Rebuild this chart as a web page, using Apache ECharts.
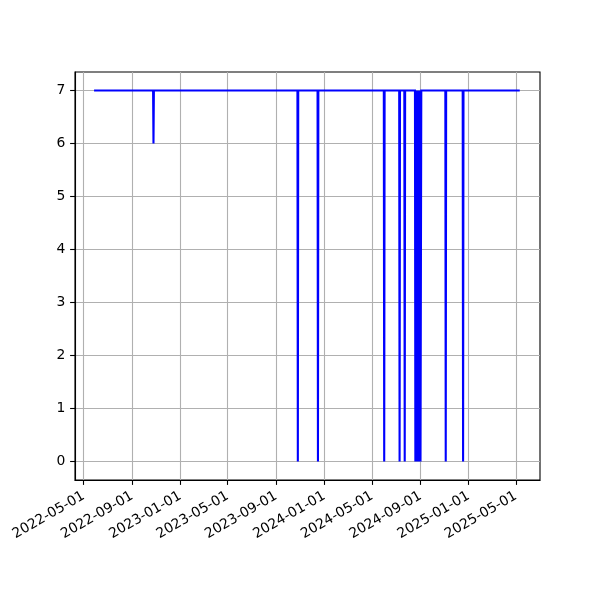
<!DOCTYPE html>
<html>
<head>
<meta charset="utf-8">
<script src="https://cdn.jsdelivr.net/npm/echarts@6/dist/echarts.min.js"></script>
<style>html,body{margin:0;padding:0;background:#fff}#c{width:600px;height:600px}</style>
</head>
<body>
<div id="c"></div>
<script>
// Key points of the series (line joins them)
const dates = [
  '2022-05-30',
  '2022-10-24','2022-10-25','2022-10-26',
  '2023-10-25','2023-10-26','2023-10-27',
  '2023-12-15','2023-12-16','2023-12-17',
  '2024-05-31','2024-06-01','2024-06-02',
  '2024-07-09','2024-07-10','2024-07-11',
  '2024-07-22','2024-07-23','2024-07-24',
  '2024-08-18','2024-08-19','2024-08-20','2024-08-21','2024-08-22','2024-08-23',
  '2024-08-24','2024-08-25','2024-08-26','2024-08-27','2024-08-28','2024-08-29',
  '2024-08-30','2024-08-31','2024-09-01','2024-09-02','2024-09-03',
  '2024-11-03','2024-11-04','2024-11-05',
  '2024-12-17','2024-12-18','2024-12-19',
  '2025-05-08'
];
const values = [
  7,
  7,6,7,
  7,0,7,
  7,0,7,
  7,0,7,
  7,0,7,
  7,0,7,
  7,0,7,0,7,0,
  0,7,0,7,0,7,
  0,7,0,0,7,
  7,0,7,
  7,0,7,
  7
];
const xTickLabels = ['2022-05-01','2022-09-01','2023-01-01','2023-05-01','2023-09-01',
  '2024-01-01','2024-05-01','2024-09-01','2025-01-01','2025-05-01'];
const yTicks = [0,1,2,3,4,5,6,7];
const xMinDate = '2022-04-09';
const xMaxDate = '2025-07-01';

function ts(s){ const p = s.split('-').map(Number); return Date.UTC(p[0], p[1]-1, p[2]); }
function fmt(v){ const d = new Date(v); const m = d.getUTCMonth()+1, dd = d.getUTCDate();
  return d.getUTCFullYear()+'-'+(m<10?'0':'')+m+'-'+(dd<10?'0':'')+dd; }

const seriesData = dates.map((d,i)=>[ts(d), values[i]]);
const xTickVals = xTickLabels.map(ts);

const chart = echarts.init(document.getElementById('c'), null, {renderer:'canvas'});
const font = 'DejaVu Sans';
chart.setOption({
  animation: false,
  backgroundColor: '#fff',
  grid: {left: 75, right: 60, top: 72, bottom: 120, show: true, borderColor: '#000', borderWidth: 1.1, backgroundColor: 'transparent'},
  xAxis: {
    type: 'value',
    min: ts(xMinDate), max: ts(xMaxDate),
    axisLine: {show: true, onZero: false, lineStyle: {color: '#000', width: 1.1}},
    axisTick: {show: true, length: 4.9, lineStyle: {color: '#000', width: 1.1}, customValues: xTickVals},
    axisLabel: {customValues: xTickVals, formatter: v => fmt(v), rotate: 30, margin: 15,
      color: '#000', fontFamily: font, fontSize: 13.9, hideOverlap: false},
    splitLine: {show: true, lineStyle: {color: '#b0b0b0', width: 1.1}}
  },
  yAxis: {
    type: 'value',
    min: -0.35, max: 7.35,
    axisLine: {show: true, onZero: false, lineStyle: {color: '#000', width: 1.1}},
    axisTick: {show: true, length: 4.9, lineStyle: {color: '#000', width: 1.1}, customValues: yTicks},
    axisLabel: {customValues: yTicks, margin: 9.7, color: '#000', fontFamily: font, fontSize: 13.9},
    splitLine: {show: true, lineStyle: {color: '#b0b0b0', width: 1.1}}
  },
  series: [{
    type: 'line',
    data: seriesData,
    showSymbol: false,
    symbol: 'none',
    lineStyle: {color: '#0000ff', width: 2.1, cap: 'square', join: 'miter'},
    itemStyle: {color: '#0000ff'},
    z: 3
  }]
});
</script>
</body>
</html>
